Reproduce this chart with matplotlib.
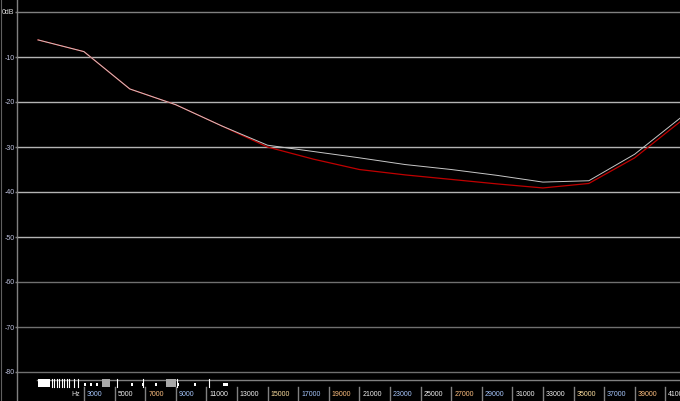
import matplotlib
matplotlib.use('Agg')
from matplotlib import pyplot as plt

# frequency response, sampled every 3 kHz
freqs = [0, 3000, 6000, 9000, 12000, 15000, 18000, 21000, 24000,
         27000, 30000, 33000, 36000, 39000, 42000]
red_db = [-6.2, -8.8, -17.1, -20.6, -25.3, -30.0, -32.7, -35.0, -36.2,
          -37.2, -38.2, -39.1, -38.1, -32.4, -24.3]
white_db = [-6.2, -8.8, -17.1, -20.6, -25.3, -29.6, -31.0, -32.4, -33.9,
            -35.0, -36.3, -37.8, -37.5, -31.6, -23.5]

db_ticks = [0, -10, -20, -30, -40, -50, -60, -70, -80]
db_labels = ['0dB', '-10', '-20', '-30', '-40', '-50', '-60', '-70', '-80']

hz_ticks = list(range(3000, 42000, 2000))
hz_labels = [str(f) for f in hz_ticks]

# marker strip under the graph
strip_solid = [(0, 785)]
strip_ticks = [895, 1065, 1222, 1392, 1549, 1719, 1876, 2026, 2353, 2595,
               5144, 6863, 9065, 11196]
strip_small = [(3000, 3150), (3400, 3530), (3770, 3900), (6050, 6200),
               (6770, 6920), (7620, 7770), (9060, 9200), (10180, 10340),
               (12070, 12440)]
strip_grey = [(4163, 4706), (8366, 9020)]

PX_HZ = 0.0153      # pixels per Hz
PX_DB = 4.5         # pixels per dB
X0 = 38             # pixel of 0 Hz
Y0 = 12             # pixel of 0 dB
W, H = 680, 401


def fx(px):
    return (px - X0) / PX_HZ


def fy(py):
    return -(py - Y0) / PX_DB


fig = plt.figure(figsize=(W / 100, H / 100), dpi=100, facecolor='black')
ax = fig.add_axes([17 / W, 0, 1 - 17 / W, 1])
ax.set_facecolor('black')
ax.set_xlim(fx(17), fx(W))
ax.set_ylim(fy(H), fy(0))

for s in ['top', 'right', 'bottom']:
    ax.spines[s].set_visible(False)
ax.spines['left'].set_color('#808080')
ax.spines['left'].set_linewidth(1.0)

ax.set_xticks([])
ax.set_yticks(db_ticks)
ax.set_yticklabels(db_labels)
ax.tick_params(axis='y', length=1.5, width=1, color='#808080', pad=0.3,
               labelsize=5, labelcolor='#c0c4e0')
for lab in ax.get_yticklabels():
    lab.set_fontfamily('Liberation Sans')
ax.get_yticklabels()[0].set_color('#e0e0e0')

# grid lines
for d in db_ticks:
    if d == 0:
        c = '#808080'
    elif d >= -50:
        c = '#b4b4b4'
    else:
        c = '#707070'
    ax.axhline(d, color=c, lw=1.0, zorder=1)

ax.plot(freqs, red_db, color='#c00000', lw=0.9, zorder=3)
ax.plot(freqs, white_db, color='#c8c8c8', lw=0.7, zorder=4)

# marker strip
base = fy(379.5)
ax.plot([fx(37), fx(W)], [base, base], color='#808080', lw=1.0, zorder=2)
tall_top, tall_bot = fy(379.3), fy(386.5)
small_top, small_bot = fy(382.5), fy(386.2)
for a, b in strip_solid:
    ax.fill_between([a, b], tall_bot, tall_top, color='white', lw=0, zorder=5)
for a, b in strip_grey:
    ax.fill_between([a, b], tall_bot, tall_top, color='#a8a8a8', lw=0, zorder=5)
for a, b in strip_small:
    ax.fill_between([a, b], small_bot, small_top, color='white', lw=0, zorder=6)
for f in strip_ticks:
    ax.plot([f, f], [tall_bot, tall_top], color='white', lw=0.8, zorder=6)

# frequency labels
label_colors = ['#a8c8ff', '#f0f0f0', '#ffc080', '#a8c8ff', '#f0f0f0',
                '#f0f0f0', '#ffe0a0', '#a8c8ff', '#ffc080', '#f0f0f0']
sep_top, sep_bot = fy(387), fy(H)
ty = fy(394)
for i, f in enumerate(hz_ticks):
    ax.plot([f, f], [sep_bot, sep_top], color='#808080', lw=1.0,
            clip_on=False, zorder=2)
    ax.text(f + 200, ty, hz_labels[i], color=label_colors[i % len(label_colors)],
            fontsize=5, family='Liberation Sans', va='center', ha='left')
ax.text(hz_ticks[0] - 250, ty, 'Hz', color='#e0e0e0', fontsize=5,
        family='Liberation Sans', va='center', ha='right')

# outer left border
fig.add_artist(plt.Line2D([0.5 / W, 0.5 / W], [0, 1], color='#606060', lw=0.8))

fig.savefig('out.png', dpi=100, facecolor='black')
